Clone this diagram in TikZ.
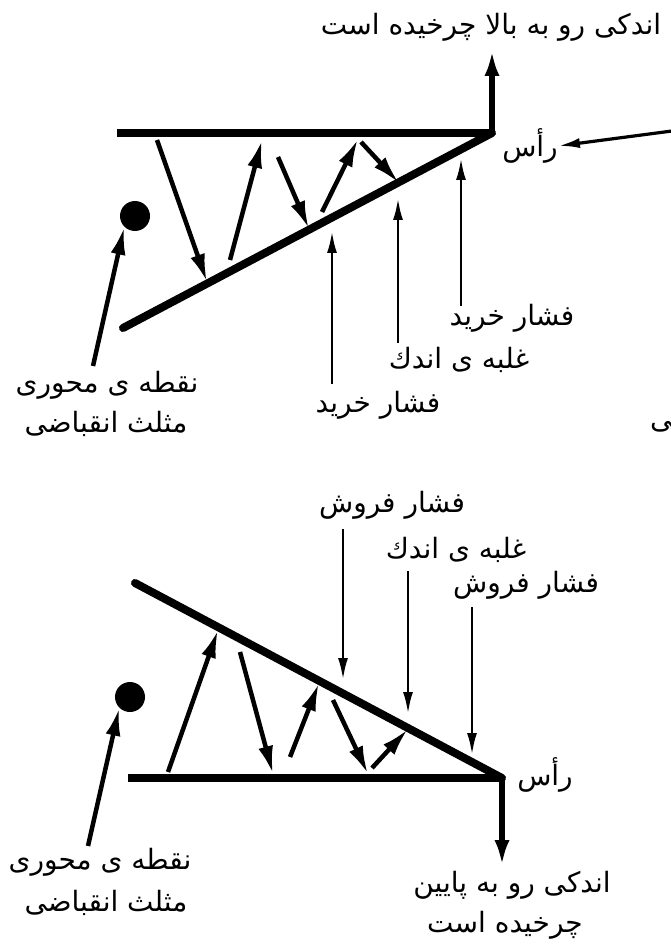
\documentclass[tikz,border=0pt]{standalone}
\usepackage{fontspec}
\newfontfamily\fa[Script=Arabic]{DejaVu Sans}
\TeXXeTstate=1
\usetikzlibrary{arrows.meta}
\begin{document}
\begin{tikzpicture}[x=1pt,y=-1pt,
  tri/.style={line width=8pt},
  apexarrow/.style={line width=6pt,-{Latex[length=26pt,width=15pt]}},
  bounce/.style={line width=4.5pt,-{Latex[length=28pt,width=15pt]}},
  press/.style={line width=2.8pt,-{Latex[length=22pt,width=10pt]}},
  lab/.style={font=\fa\fontsize{28}{32}\selectfont,inner sep=0pt},
  pivotdot/.style={circle,fill=black,minimum size=30pt,inner sep=0pt}]
\useasboundingbox[fill=white] (0,0) rectangle (670,949);

% ===== top diagram =====
\coordinate (A1) at (492,133);
\coordinate (T1L) at (117,133);
\coordinate (L1L) at (123,328);
\coordinate (U1) at (492,50);
\draw[tri] (T1L) -- (A1);
\draw[tri,line cap=round] (L1L) -- (A1);
\draw[apexarrow] (A1) -- (U1);
\node[lab] (up1) at (491,27) {\beginR اندکی رو به بالا چرخیده است\endR};

\node[lab] (ras1) at (530,146) {\beginR رأس\endR};
\coordinate (R1) at (672,131);
\draw[press,line width=3.2pt] (R1) -- (ras1.east);
\node[lab,anchor=west] (stray) at (650,420) {\beginR کی\endR};

% bounces
\coordinate (b1a) at (157,140); \coordinate (b1b) at (207,282);
\coordinate (b2a) at (230,260); \coordinate (b2b) at (262,140);
\coordinate (b3a) at (278,157); \coordinate (b3b) at (309,229);
\coordinate (b4a) at (322,212); \coordinate (b4b) at (358,139);
\coordinate (b5a) at (361,142); \coordinate (b5b) at (399,183);
\draw[bounce] (b1a) -- (b1b);
\draw[bounce] (b2a) -- (b2b);
\draw[bounce] (b3a) -- (b3b);
\draw[bounce] (b4a) -- (b4b);
\draw[bounce] (b5a) -- (b5b);

% pressure arrows
\node[lab] (p1) at (378,405) {\beginR فشار خرید\endR};
\node[lab] (g1) at (459,360) {\beginR غلبه ی اندك\endR};
\node[lab] (p2) at (512,318) {\beginR فشار خرید\endR};
\coordinate (p1s) at (332,384); \coordinate (p1t) at (332,231);
\coordinate (g1s) at (398,343); \coordinate (g1t) at (398,198);
\coordinate (p2s) at (461,306); \coordinate (p2t) at (461,158);
\draw[press] (p1s) -- (p1t);
\draw[press] (g1s) -- (g1t);
\draw[press] (p2s) -- (p2t);

% pivot
\node[pivotdot] (d1) at (135,216) {};
\coordinate (d1s) at (93,366);
\draw[bounce] (d1s) -- (d1.south west);
\node[lab] (pv1a) at (107,385) {\beginR نقطه ی محوری\endR};
\node[lab] (pv1b) at (106,424) {\beginR مثلث انقباضی\endR};

% ===== bottom diagram =====
\coordinate (A2) at (502,778);
\coordinate (B2L) at (128,778);
\coordinate (L2L) at (135,583);
\coordinate (D2) at (502,866);
\draw[tri] (B2L) -- (A2);
\draw[tri,line cap=round] (L2L) -- (A2);
\draw[apexarrow] (A2) -- (D2);
\node[lab] (ras2) at (545,775) {\beginR رأس\endR};
\node[lab] (dn1) at (512,885) {\beginR اندکی رو به پایین\endR};
\node[lab] (dn2) at (505,925) {\beginR چرخیده است\endR};

\coordinate (c1a) at (168,772); \coordinate (c1b) at (218,630);
\coordinate (c2a) at (240,652); \coordinate (c2b) at (273,774);
\coordinate (c3a) at (290,757); \coordinate (c3b) at (319,683);
\coordinate (c4a) at (333,700); \coordinate (c4b) at (368,774);
\coordinate (c5a) at (372,768); \coordinate (c5b) at (408,729);
\draw[bounce] (c1a) -- (c1b);
\draw[bounce] (c2a) -- (c2b);
\draw[bounce] (c3a) -- (c3b);
\draw[bounce] (c4a) -- (c4b);
\draw[bounce] (c5a) -- (c5b);

\node[lab] (s1) at (392,505) {\beginR فشار فروش\endR};
\node[lab] (g2) at (456,550) {\beginR غلبه ی اندك\endR};
\node[lab] (s2) at (526,585) {\beginR فشار فروش\endR};
\coordinate (s1s) at (343,529); \coordinate (s1t) at (343,680);
\coordinate (g2s) at (408,571); \coordinate (g2t) at (408,714);
\coordinate (s2s) at (472,607); \coordinate (s2t) at (472,755);
\draw[press] (s1s) -- (s1t);
\draw[press] (g2s) -- (g2t);
\draw[press] (s2s) -- (s2t);

\node[pivotdot] (d2) at (130,697) {};
\coordinate (d2s) at (88,846);
\draw[bounce] (d2s) -- (d2.south west);
\node[lab] (pv2a) at (100,862) {\beginR نقطه ی محوری\endR};
\node[lab] (pv2b) at (106,903) {\beginR مثلث انقباضی\endR};
\end{tikzpicture}
\end{document}
